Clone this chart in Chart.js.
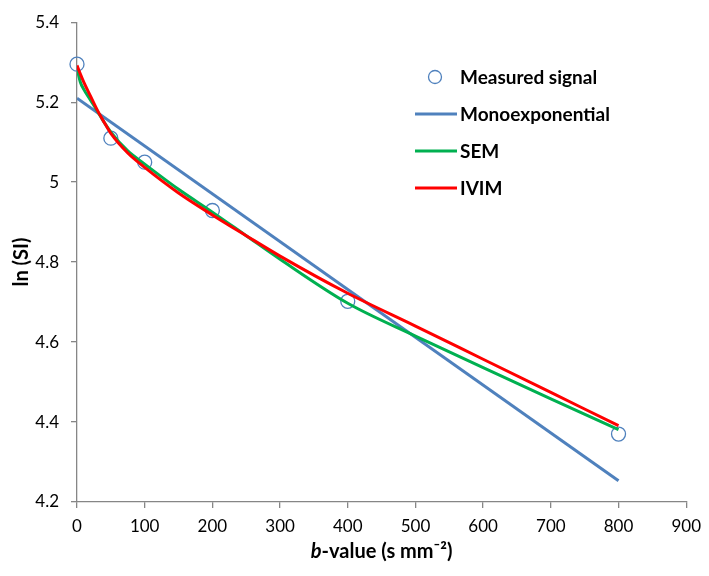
<!DOCTYPE html>
<html>
<head>
<meta charset="utf-8">
<script src="https://cdn.jsdelivr.net/npm/chart.js@4.4.1/dist/chart.umd.min.js"></script>
<style>
  html, body { margin: 0; padding: 0; background: #fff; }
  #wrap { width: 709px; height: 576px; position: relative; }
</style>
</head>
<body>
<div id="wrap"><canvas id="fitChart"></canvas></div>
<script>
// b-values and measured ln(SI)
const bMeasured = [0, 50, 100, 200, 400, 800];
const measured = [5.295, 5.110, 5.050, 4.929, 4.702, 4.370];

// monoexponential fit (straight line in log space)
const bMono = [0, 800];
const mono = [5.210, 4.253];

// SEM and IVIM fitted curves
const bFit = [0, 5, 10, 20, 30, 40, 50, 75, 100, 150, 200, 250, 300, 400, 500, 600, 700, 800];
const sem  = [5.285, 5.250, 5.232, 5.205, 5.178, 5.150, 5.125, 5.078, 5.045, 4.982, 4.925, 4.866, 4.807, 4.697, 4.615, 4.536, 4.458, 4.381];
const ivim = [5.292, 5.270, 5.250, 5.215, 5.180, 5.150, 5.122, 5.073, 5.037, 4.973, 4.918, 4.866, 4.815, 4.722, 4.640, 4.557, 4.474, 4.391];

const xTicks = [0, 100, 200, 300, 400, 500, 600, 700, 800, 900];
const yTicks = [4.2, 4.4, 4.6, 4.8, 5, 5.2, 5.4];

const legendLabels = ['Measured signal', 'Monoexponential', 'SEM', 'IVIM'];

const BLUE = '#4f81bd', GREEN = '#00b050', RED = '#ff0000', AXIS = '#868686';
const FONT = 'Lato, "Liberation Sans", sans-serif';

const toPts = (xs, ys) => xs.map((x, i) => ({ x: x, y: ys[i] }));

// legend + axis titles drawn by hand (mixed italic/bold title, legend inside plot)
const extrasPlugin = {
    id: 'extras',
    afterDraw(chart) {
        const ctx = chart.ctx;
        ctx.save();
        ctx.fillStyle = '#000';
        ctx.textBaseline = 'middle';
        ctx.textAlign = 'left';

        // legend
        const rows = [77, 114, 151, 188];
        const colors = [BLUE, BLUE, GREEN, RED];
        rows.forEach((y, i) => {
            if (i === 0) {
                ctx.beginPath();
                ctx.arc(435, y, 6.5, 0, Math.PI * 2);
                ctx.strokeStyle = BLUE;
                ctx.lineWidth = 1.3;
                ctx.stroke();
            } else {
                ctx.beginPath();
                ctx.moveTo(415, y);
                ctx.lineTo(457, y);
                ctx.strokeStyle = colors[i];
                ctx.lineWidth = 3;
                ctx.stroke();
            }
            ctx.font = 'bold 19px ' + FONT;
            ctx.fillText(legendLabels[i], 460, y + 1);
        });

        // x title: italic b + rest
        const y0 = 552;
        ctx.font = 'italic bold 20px ' + FONT;
        const wB = ctx.measureText('b').width;
        ctx.font = 'bold 20px ' + FONT;
        const rest = '-value (s mm\u207B\u00B2)';
        const wR = ctx.measureText(rest).width;
        const cx = chart.scales.x.getPixelForValue(450);
        let sx = cx - (wB + wR) / 2;
        ctx.font = 'italic bold 20px ' + FONT;
        ctx.fillText('b', sx, y0);
        ctx.font = 'bold 20px ' + FONT;
        ctx.fillText(rest, sx + wB, y0);

        // y title
        ctx.translate(22, (chart.chartArea.top + chart.chartArea.bottom) / 2);
        ctx.rotate(-Math.PI / 2);
        ctx.textAlign = 'center';
        ctx.font = 'bold 20px ' + FONT;
        ctx.fillText('ln (SI)', 0, 0);
        ctx.restore();
    }
};

new Chart(document.getElementById('fitChart').getContext('2d'), {
    type: 'line',
    data: {
        datasets: [
            { label: legendLabels[0], data: toPts(bMeasured, measured), showLine: false, clip: false,
              pointStyle: 'circle', pointRadius: 7, pointBorderColor: BLUE, pointBorderWidth: 1.3,
              pointBackgroundColor: 'rgba(0,0,0,0)', order: 4 },
            { label: legendLabels[1], data: toPts(bMono, mono), borderColor: BLUE, borderWidth: 3,
              pointRadius: 0, order: 3 },
            { label: legendLabels[2], data: toPts(bFit, sem), borderColor: GREEN, borderWidth: 3,
              pointRadius: 0, cubicInterpolationMode: 'monotone', order: 2 },
            { label: legendLabels[3], data: toPts(bFit, ivim), borderColor: RED, borderWidth: 3,
              pointRadius: 0, cubicInterpolationMode: 'monotone', order: 1 }
        ]
    },
    options: {
        responsive: true, maintainAspectRatio: false, animation: false,
        layout: { padding: { top: 10, right: 18, left: 0, bottom: 0 } },
        plugins: { legend: { display: false }, tooltip: { enabled: false } },
        scales: {
            x: {
                type: 'linear', min: 0, max: 900,
                afterBuildTicks: (s) => { s.ticks = xTicks.map(v => ({ value: v })); },
                afterFit: (s) => { s.height = 74; },
                border: { color: AXIS, width: 1.3 },
                grid: { drawOnChartArea: false, drawTicks: true, tickLength: 6, color: AXIS, lineWidth: 1.3 },
                ticks: { color: '#000', font: { family: FONT, size: 17 }, padding: 8, maxRotation: 0 }
            },
            y: {
                type: 'linear', min: 4.2, max: 5.4,
                afterBuildTicks: (s) => { s.ticks = yTicks.map(v => ({ value: v })); },
                afterFit: (s) => { s.width = 77; },
                border: { color: AXIS, width: 1.3 },
                grid: { drawOnChartArea: false, drawTicks: true, tickLength: 6, color: AXIS, lineWidth: 1.3 },
                ticks: { color: '#000', font: { family: FONT, size: 17 }, padding: 12,
                         callback: (v) => String(Math.round(v * 10) / 10) }
            }
        }
    },
    plugins: [extrasPlugin]
});
</script>
</body>
</html>
